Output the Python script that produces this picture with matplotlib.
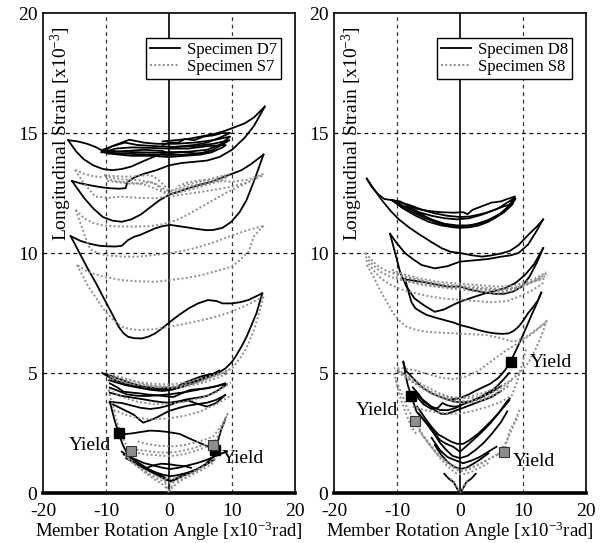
import matplotlib
matplotlib.use("Agg")
import matplotlib.pyplot as plt
from matplotlib.lines import Line2D

plt.rcParams['font.family'] = ['Liberation Serif', 'DejaVu Serif']
plt.rcParams['mathtext.fontset'] = 'custom'
plt.rcParams['mathtext.rm'] = 'Liberation Serif'
plt.rcParams['mathtext.it'] = 'Liberation Serif:italic'
plt.rcParams['mathtext.bf'] = 'Liberation Serif:bold'
plt.rcParams['axes.unicode_minus'] = False

# ---------------- axis / text data ----------------
x_ticks = [-20, -10, 0, 10, 20]
y_ticks = [0, 5, 10, 15, 20]
grid_x = [-10, 10]
grid_y = [5, 10, 15]
x_label = "Member Rotation Angle [x10$^{\\mathrm{-3}}$rad]"
y_label = "Longitudinal Strain [x10$^{\\mathrm{-3}}$]"
legend_left = ["Specimen D7", "Specimen S7"]
legend_right = ["Specimen D8", "Specimen S8"]

# ---------------- left panel : Specimen D7 (black) ----------------
d7_top_lower = [(-16.0,14.7),(-14.8,14.25),(-13.5,13.9),(-12,13.65),(-10.5,13.5),(-9,13.45),(-7.5,13.5),(-6,13.6),(-4.3,13.8),(-2.5,14.0),(-1,14.15),(0.2,14.2)]
d7_top_tip = [(-16.0,14.7),(-14.5,14.65),(-13,14.55),(-11.5,14.4),(-10.5,14.25)]
d7_c1 = [(-10.7,14.2),(-8,14.15),(-5,14.12),(-2,14.1),(0,14.08),(3,14.1),(5,14.15),(7,14.3),(9.6,14.7),(7,14.55),(4,14.45),(1,14.42),(-2,14.45),(-5,14.5),(-7,14.6),(-9,14.45),(-10.7,14.2)]
d7_c2 = [(-10.5,14.3),(-8,14.22),(-5,14.2),(-2,14.18),(0,14.2),(3,14.22),(6,14.3),(8,14.5),(9.7,14.85),(7,14.7),(4,14.6),(1,14.55),(-2,14.55),(-4,14.6),(-6.3,14.72),(-7.5,14.6),(-9,14.45),(-10.5,14.3)]
d7_c3 = [(-10.2,14.2),(-7,14.25),(-4,14.3),(-1,14.25),(0,14.15),(2,14.2),(4.5,14.15),(6.8,14.2),(8.5,14.4),(9.0,14.5),(6,14.45),(3,14.35),(0,14.35),(-3,14.38),(-6,14.4),(-8.5,14.35),(-10.2,14.2)]
d7_c4 = [(-1,14.5),(0,14.6),(1.5,14.6),(2.5,14.75),(4,14.7),(5.5,14.85),(7,14.9),(8.5,15.0),(9.7,15.0),(8,14.8),(6,14.6),(4,14.5),(2,14.45),(0,14.4)]
d7_c5 = [(-9.8,14.15),(-6,14.05),(-3,14.05),(0,14.0),(2.5,14.05),(5,14.1),(6.8,14.2)]
d7_big_upper = [(15.2,16.1),(13.5,15.65),(12,15.4),(10.5,15.25),(9,15.1),(7,14.95),(5,14.85),(3,14.75),(1,14.7),(-1,14.65)]
d7_top2 = [(-15.4,13.0),(-14,12.9),(-12.5,12.82),(-11,12.75),(-9.5,12.7),(-8,12.68),(-6.9,12.7),(-6.6,12.95),(-5.5,13.15),(-4,13.3),(-2,13.45),(0,13.65),(2,13.75),(4,13.8),(6,13.85),(8,14.0),(10,14.3),(12,14.8),(13.5,15.3),(15.2,16.1)]
d7_u2 = [(15.0,14.1),(13,13.7),(11.5,13.45),(9,13.2),(6.8,12.97),(5,12.85),(3.1,12.7),(1.5,12.55),(0.2,12.45),(-1.5,12.2),(-3,11.9),(-4.5,11.6),(-6,11.4),(-7.5,11.3),(-9.0,11.35),(-10.5,11.5),(-12,11.85),(-13.5,12.3),(-15.4,13.0)]
d7_mid = [(-15.6,10.7),(-14,10.5),(-12.5,10.38),(-11,10.3),(-9.9,10.28),(-8.5,10.27),(-7.5,10.3),(-6.5,10.54),(-5.5,10.68),(-4.6,10.75),(-3.3,10.9),(-2.2,11.03),(-1,11.12),(0.2,11.17),(1.5,11.12),(2.8,11.07),(4.5,11.0),(6,10.95),(7,10.96),(8.5,11.05),(9.9,11.3),(11.2,11.7),(12.3,12.2),(13.5,13.0),(15.0,14.1)]
d7_drop = [(-15.6,10.7),(-15,10.4),(-14.4,10.1),(-13.6,9.7),(-12.8,9.3),(-11.5,8.7),(-10.2,8.04),(-9,7.45),(-8.0,6.93),(-7.2,6.65),(-6.5,6.51),(-5.5,6.45),(-4.3,6.44),(-3.2,6.52),(-2.2,6.65),(-1,6.88),(0.2,7.14),(1.5,7.4),(3.1,7.69),(4.6,7.9),(6.2,8.04),(7.5,8.0),(8.5,7.9),(9.95,7.9),(11.3,7.95),(12.6,8.04),(14.8,8.32)]
d7_down = [(14.8,8.32),(13.9,7.5),(13.1,7.0),(12.3,6.5),(11.5,6.1),(10.6,5.7),(9.95,5.45),(9,5.2),(7.8,5.0),(6.5,4.85),(5,4.72),(3.5,4.55),(2,4.42),(0,4.32),(-2,4.36),(-4.6,4.46),(-6.3,4.6),(-7.8,4.74),(-9.9,4.95)]
d7_b1 = [(-10.6,5.0),(-9,4.75),(-7,4.55),(-5,4.42),(-3,4.3),(-1,4.25),(0.5,4.3),(2,4.45),(3.5,4.6),(5,4.75),(6.5,4.9),(8,5.1)]
d7_b2 = [(-9.5,4.7),(-7,4.5),(-4,4.35),(-1.5,4.3),(1,4.4),(3,4.65),(5,4.85),(6.5,4.95),(5,4.7),(3,4.5),(1,4.35),(-1,4.38)]
d7_b3 = [(-9.4,4.57),(-8.2,4.4),(-7.2,4.22),(-5.8,4.18),(-4.6,4.15),(-3.3,4.1),(-2.2,4.08),(-0.5,4.03),(0.7,4.0),(2,4.15),(3.3,4.29),(4.7,4.33),(6.0,4.36),(7.5,4.45),(8.9,4.57)]
d7_b4 = [(-9.4,4.39),(-8,4.25),(-6.7,4.11),(-5,4.05),(-3.5,4.04),(-1.7,4.07),(0,4.11),(2.5,4.2),(4.9,4.32),(7,4.42),(8.9,4.53)]
d7_b5 = [(-9.4,4.18),(-7.6,4.05),(-5.7,3.97),(-4,3.9),(-2.5,3.83),(-1,3.78),(0,3.76),(1.5,3.82),(2.8,3.9),(4.5,3.97),(6,4.04),(7.6,4.25),(9.2,4.53)]
d7_b6 = [(-9.4,3.76),(-8.6,3.65),(-7.8,3.55),(-6.8,3.42),(-5.7,3.28),(-4.8,3.08),(-4.1,2.93),(-3.1,3.02),(-2,3.14),(-1,3.28),(0,3.42),(1.4,3.53),(2.8,3.63),(4.4,3.7),(6,3.76),(7.5,3.88),(8.9,4.08)]
d7_b7 = [(8.9,4.08),(7.5,3.75),(6,3.6),(4.5,3.72),(3,3.85),(1.5,3.8),(0,3.65),(-1.5,3.55),(-3,3.5),(-4.5,3.55),(-6,3.65),(-7.5,3.75),(-9.4,3.8)]
d7_ydrop = [(-9.4,3.8),(-9.0,3.4),(-8.6,3.0),(-8.0,2.5),(-7.4,2.05),(-6.8,1.72)]
d7_hump = [(-8.0,2.5),(-7,2.45),(-5.7,2.49),(-4.3,2.55),(-3,2.6),(-1.5,2.58),(-0.4,2.55),(0.8,2.5),(1.7,2.46),(3,2.3),(4.4,2.14),(5.8,1.98),(7.2,1.82)]
d7_rise = [(7.2,1.82),(7.8,2.2),(8.3,2.65),(8.9,3.04)]
d7_v1 = [(-7.5,1.72),(-6.3,1.5),(-5.1,1.3),(-4,1.12),(-3,0.96),(-1.9,0.82),(-0.9,0.68),(0.16,0.47),(0.9,0.58),(1.7,0.68),(3,0.82),(4.4,0.96),(5.8,1.2),(7,1.51),(8,1.62),(9.2,1.72)]
d7_v2 = [(-7.2,1.6),(-5.5,1.42),(-4,1.25),(-2.5,1.15),(-1,1.05),(0.2,1.0),(1.5,1.05),(3,1.15),(4.5,1.25),(6,1.38),(7.5,1.55)]
d7_v3 = [(-3.5,1.05),(-2.5,1.15),(-1.2,1.22),(0,1.2),(1.2,1.15),(2.5,1.12),(3.5,1.05)]
d7_v4 = [(-6.8,1.45),(-5,1.2),(-3.5,1.0),(-2,0.85),(-0.8,0.75),(0.3,0.7),(1.5,0.75),(3,0.85),(4.5,1.0),(6,1.2),(7.2,1.4)]
d7_v5 = [(-6,1.35),(-4.5,1.1),(-3,0.9),(-1.5,0.7),(-0.5,0.55),(0.3,0.5),(1.2,0.58),(2.5,0.75),(4,0.92),(5.5,1.15)]

# ---------------- left panel : Specimen S7 (grey dotted) ----------------
s7_top_lower = [(-14.9,13.46),(-13.5,12.9),(-11.7,12.35),(-9.5,12.3),(-7.5,12.35),(-5,12.3),(-2.2,12.28),(0.16,12.35),(2.5,12.45),(5.2,12.55),(7.5,12.65),(9.95,12.76),(12.5,12.95),(15,13.25)]
s7_top_tip = [(-14.9,13.46),(-13.5,13.3),(-12,13.2),(-10.5,13.15)]
s7_top_ret = [(15,13.3),(12.5,13.05),(9.95,12.97),(7.5,13.0),(5.2,13.04),(3,12.95),(1.5,12.8)]
s7_c1 = [(-10.2,13.2),(-8.8,13.12),(-7.5,13.07),(-6.2,13.05),(-4.9,13.04),(-3.5,12.98),(-2.2,12.9),(-1,12.7),(0.16,12.55),(1.5,12.62),(3.1,12.76),(4.6,12.86),(6.2,12.97),(8,13.12),(9.7,13.3)]
s7_c2 = [(-10.0,13.1),(-8.5,13.0),(-7,12.95),(-5.5,12.92),(-4,12.85),(-2.8,12.75),(-1.5,12.6),(-0.3,12.45),(1,12.52),(2.5,12.65),(4,12.75),(5.5,12.85),(7,12.98),(8.5,13.1),(9.5,13.2)]
s7_c3 = [(-10.3,13.25),(-8.5,13.2),(-6.8,13.18),(-5.0,13.2),(-3.5,13.25),(-2.5,13.2),(-1.5,13.0),(-0.5,12.75),(0.3,12.6),(1.5,12.7),(3,12.85),(4.5,12.95),(6,13.05),(7.5,13.15),(9,13.25)]
s7_c4 = [(-9.8,13.0),(-8,12.95),(-6,12.88),(-4.5,12.9),(-3,12.95),(-2,12.85),(-1,12.6),(0,12.45),(1.2,12.5),(2.8,12.6),(4.5,12.72),(6,12.85),(7.5,12.95),(9,13.1)]
s7_mid_upper = [(-14.8,11.8),(-13.5,11.45),(-12,11.25),(-10.5,11.15),(-9,11.12),(-7,11.1),(-5,11.1),(-3,11.12),(-1,11.2),(1,11.35),(3,11.6),(5,11.9),(7,12.2),(9,12.5),(11,12.75),(13,13.0),(15,13.25)]
s7_mid_lower = [(-14.8,11.8),(-14,11.2),(-13.2,10.6),(-12.5,10.15),(-11.2,9.98),(-9.9,9.9),(-7.5,9.85),(-4.6,9.85),(-2.2,9.92),(0.16,9.99),(2.5,10.1),(4.9,10.26),(7.5,10.48),(10.2,10.75),(12.5,10.95),(15,11.13)]
s7_mid_ret = [(15,11.13),(13.5,10.7),(12.6,10.05),(11,9.65),(9.95,9.43),(7.5,9.25),(5.2,9.08),(2.5,8.95),(0.16,8.87),(-2.2,8.8),(-5,8.82),(-7.5,8.87),(-10.2,9.0),(-12.8,9.2),(-14.6,9.5)]
s7_low = [(-14.6,9.5),(-13.8,9.1),(-12.8,8.6),(-11.5,8.1),(-10.2,7.6),(-8.8,7.2),(-7.5,6.93),(-6.2,6.83),(-4.9,6.79),(-2.5,6.82),(0.16,6.93),(2.5,7.05),(5.2,7.2),(7.5,7.35),(9.95,7.55),(12.5,7.85),(15,8.18)]
s7_down = [(15,8.18),(14.3,7.5),(13.5,6.8),(12.5,6.15),(11.5,5.7),(10.2,5.25),(9,5.05),(7.5,4.9),(6,4.75),(4,4.55),(2,4.45),(0,4.4),(-2,4.45),(-4,4.55),(-6,4.7),(-8,4.85),(-10,5.0)]
s7_b1 = [(-9.4,4.85),(-7.5,4.7),(-5,4.55),(-2.5,4.45),(0.16,4.43),(2.5,4.5),(5,4.65),(7,4.85),(9.2,5.05)]
s7_b2 = [(-9.0,4.75),(-7,4.6),(-4.5,4.48),(-2,4.4),(0.5,4.38),(3,4.45),(5.5,4.6),(7.5,4.78),(9.5,5.0)]
s7_b3 = [(-9.6,4.95),(-7.5,4.8),(-5,4.62),(-2.5,4.55),(0,4.52),(2.5,4.6),(5,4.75),(7.5,4.95),(9.8,5.15)]
s7_l1 = [(-8.8,3.46),(-6.8,3.25),(-4.6,3.11),(-2.2,3.08),(0.16,3.11),(2.5,3.22),(4.9,3.39),(7.5,3.7),(9.95,4.08)]
s7_l2 = [(-9.6,4.3),(-7.5,4.0),(-5,3.8),(-2.5,3.7),(0,3.72),(2.5,3.8),(5,3.95),(7.5,4.2),(9.8,4.6)]
s7_ydrop = [(-9.6,4.3),(-9,3.7),(-8.3,3.0),(-7.5,2.4),(-6.9,2.05),(-6.2,1.79)]
s7_v1 = [(-6.2,1.79),(-5.4,1.7),(-4.6,1.65),(-3.4,1.6),(-2.2,1.58),(-1,1.55),(0.16,1.54),(1.5,1.58),(2.8,1.65),(4.4,1.78),(6,1.93),(7.0,2.0)]
s7_v2 = [(-6.5,1.9),(-5,1.8),(-3.5,1.75),(-2,1.7),(-0.5,1.68),(1,1.7),(2.5,1.78),(4,1.88),(5.5,2.0),(7,2.1)]
s7_v3 = [(7.0,2.0),(7.8,2.4),(8.5,2.8),(9.3,3.3),(8.3,2.8),(7,2.35),(5.5,2.2),(4,2.1),(2.5,2.0),(1,1.95),(-0.5,1.95),(-2,1.98),(-3.5,2.05),(-5,2.15)]
s7_w1 = [(-7.0,1.6),(-5.8,1.3),(-4.5,1.0),(-3.3,0.75),(-2.2,0.55),(-1,0.35),(0,0.1),(0.8,0.3),(1.8,0.5),(3,0.7),(4.5,0.95),(6,1.2),(7.5,1.45)]
s7_w2 = [(-6.5,1.4),(-5,1.1),(-3.8,0.88),(-2.6,0.7),(-1.5,0.55),(-0.5,0.45),(0.3,0.42),(1.3,0.5),(2.5,0.62),(4,0.8),(5.5,1.0),(7,1.25)]
s7_w3 = [(-5.5,1.2),(-4,0.95),(-2.5,0.75),(-1.2,0.62),(0,0.58),(1.2,0.62),(2.5,0.72),(4,0.9),(5.5,1.1)]
s7_spike = [(-0.8,0.6),(-0.3,0.2),(0,0.0),(0.3,0.2),(0.8,0.6)]

# ---------------- right panel : Specimen D8 (black) ----------------
d8_tip_lower = [(-14.8,13.1),(-13.5,12.6),(-12.4,12.2),(-11,11.75),(-9.7,11.4),(-8,11.05),(-6.6,10.8),(-4.5,10.45),(-2.9,10.2),(-1.5,10.05),(0,10.0),(2,9.9),(3.5,9.85),(5,9.9),(6.7,9.99),(8,10.1),(9.3,10.33),(11,10.8),(12.2,11.1),(13.2,11.4)]
d8_tip_upper = [(-14.8,13.1),(-14,12.75),(-13,12.45),(-12,12.25),(-10.8,12.2)]
d8_c1 = [(-10.8,12.2),(-9,11.85),(-7,11.55),(-5,11.3),(-3,11.15),(-1,11.07),(0,11.05),(1.5,11.07),(3,11.15),(4.5,11.3),(6,11.55),(7.5,11.9),(8.7,12.3),(7.5,12.1),(6,11.85),(4.5,11.7),(3,11.6),(1.5,11.52),(0,11.5),(-2,11.55),(-4,11.65),(-6,11.8),(-8,12.0),(-10.8,12.2)]
d8_c2 = [(-10.5,12.15),(-8.5,11.9),(-6.5,11.65),(-4.5,11.4),(-2.5,11.22),(-0.5,11.15),(1.5,11.15),(3.5,11.25),(5.5,11.45),(7,11.7),(8.4,12.05),(7,11.95),(5.5,11.8),(3.5,11.6),(1.5,11.45),(-0.5,11.4),(-2.5,11.45),(-4.5,11.55),(-6.5,11.7),(-8.5,11.95)]
d8_c3 = [(-9.5,11.95),(-7.5,11.7),(-5.5,11.45),(-3.5,11.25),(-1.5,11.12),(0.5,11.1),(2.5,11.2),(4.5,11.38),(6.5,11.65),(8.0,11.95),(8.8,12.25)]
d8_c4 = [(-10.8,12.2),(-9.5,12.15),(-8.5,12.0),(-7,11.85),(-5,11.75),(-3,11.7),(-1,11.68),(0.5,11.7),(1.2,11.62),(2,11.8),(3.5,11.95),(5,12.1),(6.5,12.15),(7.5,12.25),(8.7,12.35)]
d8_ab = [(13.2,11.4),(12,10.85),(10.8,10.35),(9.3,10.0),(8,9.9),(6.6,9.85),(4.5,9.75),(2.5,9.7),(0,9.64),(-2,9.45),(-4,9.36),(-6.1,9.5),(-7.5,9.75),(-8.7,9.99),(-10,10.4),(-11.1,10.8)]
d8_bc = [(-11.1,10.8),(-10.6,10.3),(-10,9.7),(-9.5,9.2),(-8.5,8.6),(-7.2,8.1),(-5.6,7.8),(-4,7.55),(-2.5,7.65),(-1,7.85),(0,7.97),(2,8.15),(4,8.32),(5.5,8.42),(7.1,8.53),(8.8,8.75),(10.3,9.08),(11.8,9.55),(13.2,10.2)]
d8_cd = [(13.2,10.2),(12.2,9.6),(11,9.0),(9.8,8.6),(8.5,8.4),(7,8.3),(5.5,8.3),(4,8.35),(2,8.45),(0,8.6),(-2,8.6),(-4,8.7),(-6,8.8),(-7.5,8.85),(-8.7,8.9)]
d8_de = [(-8.7,8.9),(-8.2,8.4),(-7.7,7.95),(-7.1,7.7),(-6.2,7.55),(-5.3,7.42),(-3.8,7.3),(-2.4,7.2),(-1,7.1),(0,7.0),(1.5,6.9),(2.9,6.79),(4.3,6.7),(5.6,6.65),(6.7,6.63),(7.7,6.65),(8.5,6.75),(9.3,6.93),(10.1,7.2),(10.8,7.49),(11.6,7.75),(12.4,8.04),(12.9,8.35)]
d8_down = [(12.9,8.35),(12.2,7.9),(11.4,7.44),(10.6,6.95),(9.8,6.47),(8.9,5.95),(8.0,5.47),(7.1,5.1),(6.1,4.8),(4.8,4.55),(3.5,4.39),(2.4,4.25),(1.4,4.11),(0,3.95),(-1.5,3.9)]
d8_l1 = [(-9.0,5.47),(-8.6,5.1),(-7.7,4.85),(-6.8,4.6),(-5.8,4.36),(-4.5,4.15),(-3.2,4.01),(-2,3.9),(-0.8,3.8),(0.4,3.78),(1.6,3.8),(2.9,3.95),(4.2,4.15),(5.2,4.3),(5.8,4.43),(6.8,4.7),(7.8,5.0)]
d8_l2 = [(-9.0,5.47),(-8.7,5.0),(-8.3,4.5),(-7.7,4.04)]
d8_l3 = [(-7.5,4.4),(-6.5,4.1),(-5.8,3.8),(-4.5,3.6),(-3.2,3.46),(-2,3.45),(-0.8,3.53),(0.5,3.7),(2,3.85),(3.5,4.0),(5,4.2),(6.5,4.45)]
d8_l4 = [(-7.2,4.2),(-6.2,3.95),(-5,3.7),(-4,3.45),(-3,3.3),(-2,3.3),(-1,3.4),(0.5,3.55),(2,3.7),(3.5,3.85),(5,4.0),(6.5,4.25)]
d8_l5 = [(-6.8,4.0),(-5.8,3.7),(-4.5,3.5),(-3.5,3.55),(-2.8,3.75),(-2,3.65),(-1,3.6),(0,3.62)]
d8_v1 = [(-7.7,4.04),(-7.3,3.7),(-6.9,3.39),(-5.8,3.05),(-4.8,2.76),(-4,2.5),(-3.2,2.21),(-2.2,2.05),(-1.1,1.93),(0,1.72),(1,1.95),(2.1,2.21),(3.5,2.55),(4.8,2.9),(6.2,3.35),(7.4,3.8),(7.9,3.94)]
d8_v2 = [(-6.8,3.6),(-5.5,3.1),(-4.5,2.75),(-3.5,2.45),(-2.5,2.3),(-1.5,2.15),(-0.5,2.05),(0.5,2.05),(1.5,2.2),(2.8,2.45),(4,2.75),(5.5,3.15),(7,3.6),(7.8,3.85)]
d8_v3 = [(-6.5,3.3),(-5.3,2.9),(-4.2,2.5),(-3.2,2.1),(-2.2,1.8),(-1.2,1.55),(0,1.45),(1.2,1.55),(2.5,1.8),(3.8,2.1),(5,2.45),(6.5,2.95),(7.5,3.4)]
d8_v4 = [(-4.5,2.3),(-3.2,1.79),(-2,1.5),(-0.8,1.37),(0.5,1.24),(1.8,1.35),(3.2,1.51),(4.5,1.72),(5.8,1.93)]
d8_v5 = [(-4,2.0),(-3,1.6),(-2,1.3),(-1,1.1),(0,1.0),(1,1.05),(2,1.2),(3.2,1.4),(4.5,1.65)]
d8_v6 = [(-2.5,0.8),(-1.8,0.6),(-1,0.45),(-0.5,0.2),(0,0.0),(0.5,0.2),(1,0.45),(1.8,0.6),(2.5,0.8)]

# ---------------- right panel : Specimen S8 (grey dotted) ----------------
s8_f1 = [(-15.0,10.0),(-14,9.7),(-13,9.45),(-12,9.3),(-10.6,9.15),(-8,8.95),(-5.8,8.8),(-3,8.68),(-0.8,8.6),(2,8.52),(4.2,8.46),(6.9,8.39),(8.8,8.5),(10.6,8.74),(12.3,8.85),(13.8,8.95)]
s8_f2 = [(-15.0,9.85),(-13.8,9.5),(-12.5,9.2),(-11,9.0),(-9,8.85),(-6.5,8.7),(-4,8.6),(-1.5,8.52),(1,8.45),(3.5,8.38),(6,8.32),(8,8.4),(10,8.6),(12,8.85),(13.9,9.2)]
s8_f3 = [(-14.9,9.7),(-13.8,9.3),(-12.6,8.95),(-11.2,8.7),(-9.5,8.5),(-7.5,8.35),(-5,8.2),(-2.5,8.1),(0,8.05),(2.5,8.0),(5,7.95),(7.5,8.0),(9.5,8.2),(11.5,8.45),(13.5,8.8)]
s8_f4 = [(-10.6,9.2),(-8.5,9.0),(-6,8.85),(-3.5,8.72),(-1,8.65),(1.5,8.6),(4,8.55),(6.5,8.5),(8.5,8.55),(10.5,8.7),(12.5,8.9),(13.9,9.1)]
s8_f5 = [(-10.2,9.0),(-8,8.82),(-5.5,8.68),(-3,8.6),(-0.5,8.55),(2,8.52),(4.5,8.48),(6.8,8.45),(9,8.55),(11,8.75),(13,9.0)]
s8_f6 = [(-10.8,9.3),(-8.8,9.1),(-6.5,8.95),(-4,8.82),(-1.5,8.75),(1,8.7),(3.5,8.65),(6,8.6),(8,8.62),(10,8.75),(12,8.95),(13.7,9.2)]
s8_low = [(-14.8,9.5),(-13.7,9.0),(-12.7,8.46),(-11.6,7.95),(-10.6,7.49),(-9.5,7.15),(-8.5,6.93),(-7,6.8),(-5.3,6.72),(-3,6.68),(-0.8,6.65),(1.5,6.62),(4.2,6.58),(6.5,6.45),(8.5,6.3),(10.5,6.5),(12.3,6.85),(13.8,7.14)]
s8_mid = [(13.8,7.17),(12,6.75),(9.8,6.33),(7.2,5.92),(5,5.5),(3,5.1),(1,4.85),(-1,4.75),(-3,4.8),(-5,4.95),(-7,5.1),(-9,5.2),(-10.5,5.2)]
s8_down = [(13.8,7.2),(13,6.6),(12,6.0),(11,5.5),(10,5.15),(9,4.9),(7.5,4.6),(6,4.4),(4,4.2),(2,4.05),(0,3.95),(-2,4.0),(-4,4.15),(-6,4.4),(-8,4.75),(-10.3,5.1)]
s8_b1 = [(-9.7,5.08),(-8.6,4.85),(-7.6,4.67),(-6.3,4.45),(-5,4.25),(-3.6,4.05),(-2.3,3.9),(-1,3.8),(0.3,3.76),(1.6,3.78),(3,3.83),(4.3,3.95),(5.6,4.11),(6.7,4.28),(7.7,4.46)]
s8_b2 = [(-9.4,4.95),(-8,4.7),(-6.8,4.5),(-5.5,4.3),(-4,4.1),(-2.5,3.95),(-1,3.85),(0.5,3.82),(2,3.85),(3.5,3.92),(5,4.05),(6.5,4.25),(7.8,4.5)]
s8_b3 = [(-9.9,5.15),(-8.8,4.95),(-7.5,4.75),(-6,4.52),(-4.5,4.32),(-3,4.12),(-1.5,4.0),(0,3.95),(1.5,3.95),(3,4.0),(4.5,4.12),(6,4.3),(7.5,4.55),(8.5,4.75)]
s8_l1 = [(-7.5,3.6),(-5.5,3.45),(-3.5,3.35),(-1.5,3.3),(0.5,3.32),(2.5,3.45),(4.5,3.6),(6.5,3.8),(8.2,4.05),(9,4.6),(9.8,5.3),(10.5,6.0)]
s8_ydrop = [(-10.5,5.0),(-10,4.6),(-9.2,4.1),(-8.3,3.5),(-7.1,3.01)]
s8_ydrop2 = [(-10.2,4.7),(-9.5,4.0),(-8.7,3.4),(-7.8,2.8),(-6.8,2.4)]
s8_v1 = [(-7.1,3.01),(-6.5,2.7),(-5.8,2.35),(-4.8,2.0),(-3.7,1.65),(-2.4,1.35),(-1.1,1.1),(0,0.96),(1,1.02),(2.1,1.1),(3.5,1.27),(4.8,1.44),(6,1.6),(7,1.72)]
s8_v2 = [(-6.8,2.8),(-6,2.45),(-5,2.1),(-4,1.8),(-3,1.5),(-2,1.25),(-1,1.05),(0,0.9),(1,0.95),(2,1.05),(3.2,1.2),(4.5,1.4),(5.8,1.58),(7,1.8)]
s8_v3 = [(-6.5,2.6),(-5.5,2.25),(-4.5,1.9),(-3.5,1.55),(-2.5,1.25),(-1.5,1.0),(-0.5,0.8),(0.5,0.78),(1.5,0.85),(2.5,0.98),(3.5,1.1),(4.5,1.25)]
s8_v4 = [(-1.5,0.6),(-0.8,0.4),(-0.3,0.15),(0,0.0),(0.3,0.15),(0.8,0.4),(1.5,0.6)]
s8_up = [(7,1.72),(7.9,2.6),(8.7,3.0),(9.5,3.5)]
s8_up2 = [(6,1.6),(7.5,2.2),(8.5,2.8),(9.2,3.2)]

# ---------------- markers and labels ----------------
left_yield_black = [(-8.0,2.49),(7.3,1.8)]
left_yield_grey = [(-6.1,1.77),(7.0,2.02)]
right_yield_black = [(-7.7,4.04),(8.05,5.45)]
right_yield_grey = [(-7.1,3.01),(7.0,1.72)]
left_yield_text = [(-12.6,2.0),(11.7,1.45)]
right_yield_text = [(14.5,5.45),(-13.2,3.45),(11.7,1.3)]

left_black = [d7_top_lower, d7_top_tip, d7_c1, d7_c2, d7_c3, d7_c4, d7_c5, d7_big_upper,
              d7_top2, d7_u2, d7_mid, d7_drop, d7_down, d7_b1, d7_b2, d7_b3, d7_b4,
              d7_b5, d7_b6, d7_b7, d7_ydrop, d7_hump, d7_rise, d7_v1, d7_v2, d7_v3,
              d7_v4, d7_v5]
left_grey = [s7_top_lower, s7_top_tip, s7_top_ret, s7_c1, s7_c2, s7_c3, s7_c4,
             s7_mid_upper, s7_mid_lower, s7_mid_ret, s7_low, s7_down, s7_b1, s7_b2,
             s7_b3, s7_l1, s7_l2, s7_ydrop, s7_v1, s7_v2, s7_v3, s7_w1, s7_w2, s7_w3,
             s7_spike]
right_black = [d8_tip_lower, d8_tip_upper, d8_c1, d8_c2, d8_c3, d8_c4, d8_ab, d8_bc,
               d8_cd, d8_de, d8_down, d8_l1, d8_l2, d8_l3, d8_l4, d8_l5, d8_v1, d8_v2,
               d8_v3, d8_v4, d8_v5, d8_v6]
right_grey = [s8_f1, s8_f2, s8_f3, s8_f4, s8_f5, s8_f6, s8_low, s8_mid, s8_down,
              s8_b1, s8_b2, s8_b3, s8_l1, s8_ydrop, s8_ydrop2, s8_v1, s8_v2, s8_v3,
              s8_v4, s8_up, s8_up2]

GREY = '#8e8e8e'
TICK_FS = 14
LABEL_FS = 13.5

fig = plt.figure(figsize=(6.05, 5.43), dpi=100)
ax1 = fig.add_axes([43/605, 50/543, 252/605, 480/543])
ax2 = fig.add_axes([334/605, 50/543, 252/605, 480/543])


def setup(ax, legend_labels, black, grey, yb, yg, ytxt):
    ax.set_xlim(-20, 20)
    ax.set_ylim(0, 20)
    ax.set_xticks(x_ticks)
    ax.set_yticks(y_ticks)
    ax.tick_params(length=0, labelsize=TICK_FS)
    ax.tick_params(axis='x', pad=7)
    ax.tick_params(axis='y', pad=4)
    for gx in grid_x:
        ax.axvline(gx, color='#333333', lw=0.9, ls=(0, (3, 3)), zorder=1)
    for gy in grid_y:
        ax.axhline(gy, color='black', lw=0.9, ls=(0, (3, 3)), zorder=1)
    ax.axvline(0, color='black', lw=1.2, zorder=1)
    for s in ['top', 'left', 'right']:
        ax.spines[s].set_linewidth(1.2)
    ax.spines['bottom'].set_linewidth(2.6)

    for c in black:
        xs = [p[0] for p in c]
        ys = [p[1] for p in c]
        ax.plot(xs, ys, color='black', lw=1.3, zorder=3)
    for c in grey:
        xs = [p[0] for p in c]
        ys = [p[1] for p in c]
        ax.plot(xs, ys, color=GREY, lw=1.4, ls=(0, (1, 1.2)), zorder=4)

    ax.plot([p[0] for p in yb], [p[1] for p in yb], ls='none', marker='s',
            ms=7.5, mfc='black', mec='black', zorder=6)
    ax.plot([p[0] for p in yg], [p[1] for p in yg], ls='none', marker='s',
            ms=7.5, mfc=GREY, mec='#333333', mew=0.8, zorder=6)
    for (tx, ty) in ytxt:
        ax.text(tx, ty, "Yield", fontsize=14, ha='center', va='center', zorder=7)

    ax.set_xlabel(x_label, fontsize=LABEL_FS, labelpad=0)
    ax.text(-17.0, 19.45, y_label, rotation=90, fontsize=14,
            ha='center', va='top', zorder=7)

    handles = [Line2D([0], [0], color='black', lw=1.3),
               Line2D([0], [0], color=GREY, lw=1.4, ls=(0, (1, 1.2)))]
    leg = ax.legend(handles, legend_labels, loc='upper right',
                    bbox_to_anchor=(0.944, 0.948), fontsize=12,
                    frameon=True, fancybox=False, edgecolor='black',
                    framealpha=1, borderpad=0.25, labelspacing=0.05,
                    handlelength=1.8, handletextpad=0.4, borderaxespad=0)
    leg.get_frame().set_linewidth(1.0)
    leg.set_zorder(8)


setup(ax1, legend_left, left_black, left_grey, left_yield_black, left_yield_grey, left_yield_text)
setup(ax2, legend_right, right_black, right_grey, right_yield_black, right_yield_grey, right_yield_text)

fig.savefig("out.png", dpi=100)
